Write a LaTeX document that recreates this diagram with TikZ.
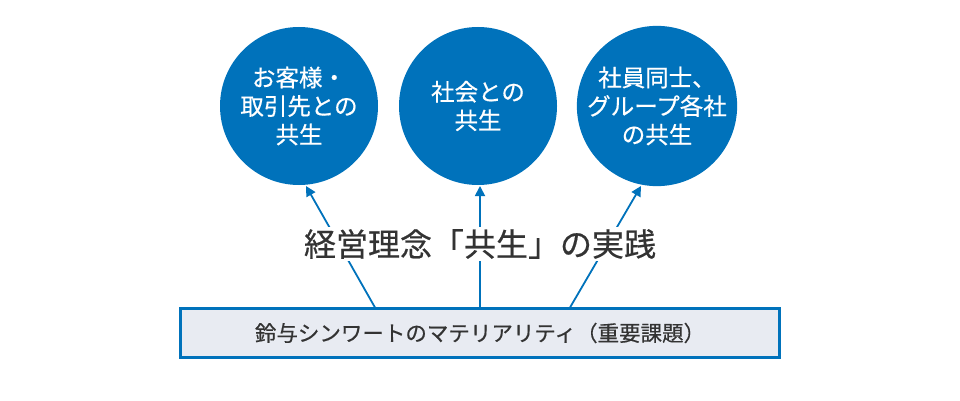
\documentclass[tikz,border=0pt]{standalone}
\usepackage{fontspec}
\setmainfont{Noto Sans CJK JP}
\newfontfamily\jpm{Noto Sans CJK JP}[FakeBold=0.5]
\usetikzlibrary{arrows.meta}
\definecolor{cblue}{RGB}{0,114,187}
\definecolor{boxfill}{RGB}{232,235,242}
\definecolor{txt}{RGB}{51,51,51}
\tikzset{
  goal/.style={circle, fill=cblue, minimum size=158pt, inner sep=0pt, text=white, align=center, font=\jpm\fontsize{23.5}{28.5}\selectfont},
  link/.style={draw=cblue, line width=1.8pt, -{Triangle[length=10pt,width=10pt]}},
  base/.style={draw=cblue, fill=boxfill, line width=3pt, minimum width=599pt, minimum height=49pt, inner sep=0pt, text=txt, font=\jpm\fontsize{21.5}{24}\selectfont},
  title/.style={fill=white, inner sep=2pt, text=txt, font=\jpm\fontsize{32}{36}\selectfont}
}
\begin{document}
\begin{tikzpicture}[x=1pt,y=-1pt]
\useasboundingbox (0,0) rectangle (960,401);
\node[goal] (g1) at (299,106) {お客様・\\取引先との\\共生};
\node[goal] (g2) at (478,106) {社会との\\共生};
\node[goal] (g3) at (657,106) {社員同士、\\グループ各社\\の共生};
\node[base] (b) at (480,333) {鈴与シンワートのマテリアリティ（重要課題）};
\coordinate (s1) at (375,307.5);
\coordinate (s2) at (480,307.5);
\coordinate (s3) at (570,307.5);
\coordinate (t1) at (306,186);
\coordinate (t2) at (480,186);
\coordinate (t3) at (641,186);
\draw[link] (s1) -- (t1);
\draw[link] (s2) -- (t2);
\draw[link] (s3) -- (t3);
\node[title] (t) at (480,244) {経営理念「共生」の実践};
\end{tikzpicture}
\end{document}
